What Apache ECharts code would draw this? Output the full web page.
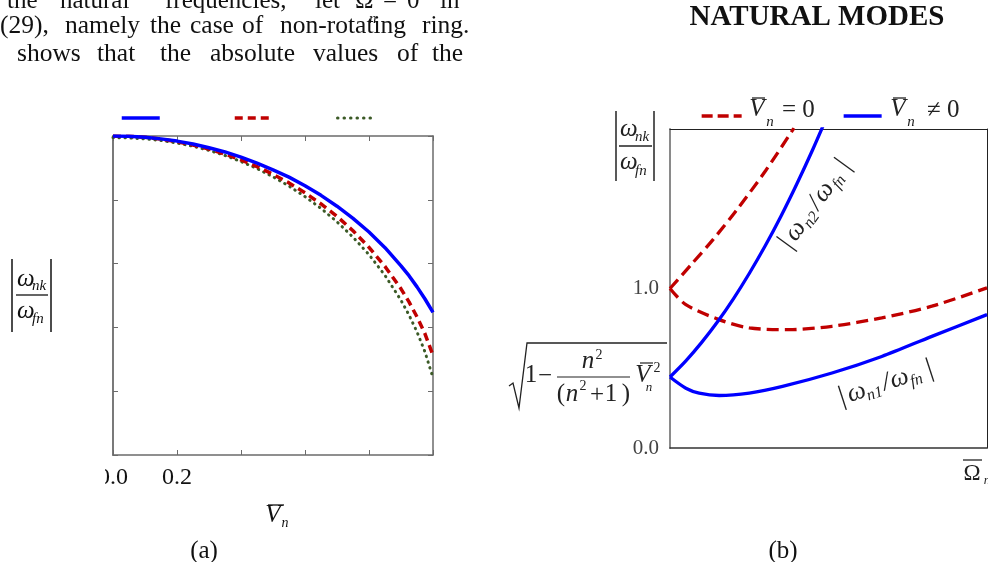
<!DOCTYPE html>
<html><head><meta charset="utf-8">
<script src="https://cdn.jsdelivr.net/npm/echarts@6/dist/echarts.min.js"></script>
<style>html,body{margin:0;padding:0;background:#fff}#c{width:988px;height:562px}</style>
</head><body><div id="c"></div>
<script>
// ---------- data: plot (a) ----------
const vn = [0,0.05,0.1,0.15,0.2,0.25,0.3,0.35,0.4,0.45,0.5,0.55,0.6,0.65,0.7,0.75,0.8,0.85,0.9,0.925,0.95,0.975,1];
const blueA = [1,0.999,0.996,0.991,0.984,0.975,0.963,0.950,0.934,0.915,0.894,0.871,0.844,0.814,0.780,0.742,0.699,0.650,0.593,0.562,0.527,0.489,0.447];
const redA = [1,0.999,0.996,0.990,0.982,0.972,0.959,0.943,0.925,0.904,0.880,0.853,0.822,0.787,0.748,0.703,0.651,0.591,0.521,0.480,0.433,0.380,0.312];
const greenA = [0.995,0.994,0.991,0.986,0.978,0.968,0.955,0.939,0.920,0.898,0.872,0.843,0.810,0.773,0.731,0.683,0.628,0.563,0.485,0.439,0.386,0.323,0.242];
const xTickLabelsA = ['0.0','0.2'];

// ---------- data: plot (b) ----------
const omRedUp = [0,0.066,0.135,0.208,0.302,0.391];
const redUp = [1.0,1.148,1.305,1.486,1.740,2.006];
const omRedLow = [0,0.05,0.155,0.25,0.375,0.511,0.668,0.826,1.0];
const redLow = [1.0,0.899,0.805,0.753,0.742,0.763,0.816,0.889,1.004];
const omBlueUp = [0,0.05,0.1,0.15,0.2,0.25,0.3,0.35,0.4,0.45,0.49];
const blueUp = [0.445,0.546,0.662,0.791,0.935,1.094,1.266,1.453,1.655,1.870,2.053];
const omBlueLow = [0,0.05,0.092,0.155,0.25,0.355,0.511,0.668,0.826,1.0];
const blueLow = [0.445,0.375,0.344,0.329,0.344,0.386,0.470,0.574,0.700,0.836];
const yTickLabelsB = ['0.0','1.0'];

// ---------- page text ----------
const paraLine1 = [['the',7],['natural',60],['frequencies,',165],['let',315],['in',440]];
const paraLine2 = [['(29),',0],['namely',65],['the',150],['case',190],['of',242],['non-rotating',280],['ring.',422]];
const paraLine3 = [['shows',17],['that',97],['the',160],['absolute',210],['values',313],['of',397],['the',432]];

const F = "'Liberation Serif','Times New Roman',serif";
const BLUE = '#0000ff', RED = '#c00000', GREEN = '#3b5a26';

function T(x, y, text, size, o) {
  o = o || {};
  return {type:'text', x:x, y:y, z:100, silent:true,
    style:{text:text, fontFamily:F, fontSize:size, fontStyle:o.it?'italic':'normal',
      fontWeight:o.b?'bold':'normal', fill:o.c||'#111',
      align:o.al||'center', textAlign:o.al||'center', verticalAlign:'middle', textVerticalAlign:'middle'}};
}
function L(x1, y1, x2, y2, w, c) {
  return {type:'line', z:100, silent:true, shape:{x1:x1,y1:y1,x2:x2,y2:y2}, style:{stroke:c||'#111', lineWidth:w||1.5}};
}
function pairs(xs, ys) { return xs.map((x,i)=>[x, ys[i]]); }

const g = [];
// paragraph
paraLine1.forEach(w=>g.push(T(w[1], 1.5, w[0], 25, {al:'left'})));
g.push(T(355, 1.5, 'Ω', 25, {al:'left'}));
g.push(T(369, 19, 'n', 15, {al:'left', it:true}));
g.push(T(383, 1.5, '=', 25, {al:'left'}));
g.push(T(407, 1.5, '0', 25, {al:'left'}));
paraLine2.forEach(w=>g.push(T(w[1], 26.5, w[0], 25.5, {al:'left'})));
paraLine3.forEach(w=>g.push(T(w[1], 54, w[0], 25.5, {al:'left'})));
// heading
g.push(T(817, 18, 'NATURAL MODES', 29, {b:true}));
// captions
g.push(T(204, 551, '(a)', 25));
g.push(T(783, 551, '(b)', 25));

// y-label of (a)
g.push(L(12,259,12,332,1.5), L(51,259,51,332,1.5), L(16,295,48,295,1.3));
g.push(T(17, 279, 'ω', 25, {al:'left', it:true}));
g.push(T(32, 286, 'nk', 15, {al:'left', it:true}));
g.push(T(17, 311, 'ω', 25, {al:'left', it:true}));
g.push(T(32, 319, 'fn', 15, {al:'left', it:true}));
// x-name of (a)
g.push(T(273, 515, 'V', 25, {it:true}));
g.push(L(268,505,284,505,1.3));
g.push(T(285, 523, 'n', 14, {it:true}));
// mask clipping of the first tick label
g.push({type:'rect', z:200, silent:true, shape:{x:80,y:460,width:25,height:36}, style:{fill:'#fff'}});

// y-label of (b)
g.push(L(616,111,616,181,1.5,'#222'), L(654,111,654,181,1.5,'#222'), L(619,146,652,146,1.3,'#222'));
g.push(T(620, 129, 'ω', 25, {al:'left', it:true, c:'#222'}));
g.push(T(635, 137, 'nk', 15, {al:'left', it:true, c:'#222'}));
g.push(T(620, 162, 'ω', 25, {al:'left', it:true, c:'#222'}));
g.push(T(635, 171, 'fn', 15, {al:'left', it:true, c:'#222'}));
// x-name of (b)
g.push(T(972, 474, 'Ω', 23, {c:'#222'}));
g.push(L(963,460,982,460,1.3,'#222'));
g.push(T(987, 481, 'n', 13, {it:true, c:'#222'}));

// legend texts of (b)
g.push(T(757, 109, 'V', 25, {it:true, c:'#222'}));
g.push(L(752,98,765,98,1.3,'#222'));
g.push(T(770, 122, 'n', 15, {it:true, c:'#222'}));
g.push(T(782, 110, '= 0', 25, {al:'left', c:'#222'}));
g.push(T(898, 109, 'V', 25, {it:true, c:'#222'}));
g.push(L(893,98,906,98,1.3,'#222'));
g.push(T(911, 122, 'n', 15, {it:true, c:'#222'}));
g.push(T(927, 110, '≠ 0', 25, {al:'left', c:'#222'}));

// sqrt tick label of (b)
g.push({type:'polyline', z:100, silent:true, shape:{points:[[509,386],[513,383],[519,408],[527,343],[667,343]]}, style:{stroke:'#222', lineWidth:1.3, fill:null}});
g.push(T(531, 375, '1', 25, {c:'#222'}));
g.push(T(545, 376, '−', 25, {c:'#222'}));
g.push(T(588, 361, 'n', 25, {it:true, c:'#222'}));
g.push(T(599, 355, '2', 14, {c:'#222'}));
g.push(L(557,377,630,377,1.2,'#222'));
g.push(T(561, 394, '(', 25, {c:'#222'}));
g.push(T(572, 394, 'n', 25, {it:true, c:'#222'}));
g.push(T(583, 386, '2', 14, {c:'#222'}));
g.push(T(597, 395, '+', 25, {c:'#222'}));
g.push(T(611, 394, '1', 25, {c:'#222'}));
g.push(T(626, 394, ')', 25, {c:'#222'}));
g.push(T(643, 375, 'V', 25, {it:true, c:'#222'}));
g.push(L(640,363,653,363,1.2,'#222'));
g.push(T(657, 368, '2', 14, {c:'#222'}));
g.push(T(649, 388, 'n', 13, {it:true, c:'#222'}));

// curve labels of (b)
function modeLabel(cx, cy, rotDeg, half, k) {
  const s = half/46;
  const ch = [
    T(-46*s, 0, '|', 28, {c:'#222'}),
    T(-31*s, 0, 'ω', 26, {it:true, c:'#222'}),
    T(-14*s, 7, 'n'+k, 16, {it:true, c:'#222'}),
    T(0, 0, '/', 26, {it:true, c:'#222'}),
    T(14*s, 0, 'ω', 26, {it:true, c:'#222'}),
    T(30*s, 7, 'fn', 16, {it:true, c:'#222'}),
    T(46*s, 0, '|', 28, {c:'#222'})
  ];
  return {type:'group', x:cx, y:cy, rotation:rotDeg*Math.PI/180, z:100, silent:true, children:ch};
}
g.push(modeLabel(815, 204, 54, 49, '2'));
g.push(modeLabel(886, 383, 18, 46, '1'));

const common = {type:'line', symbol:'none', showSymbol:false, silent:true};
const legCommon = {itemWidth:38, itemHeight:14, padding:0, selectedMode:false, formatter:()=>'', textStyle:{fontSize:1}, itemStyle:{opacity:0}};

const axisBase = {type:'value', splitLine:{show:false}};
const option = {
  animation:false,
  backgroundColor:'#fff',
  grid:[
    {left:113, top:136, width:320, height:319},
    {left:670, top:129, width:317, height:319}
  ],
  legend:[
    Object.assign({data:['blueA'], left:120, top:111, lineStyle:{width:3.5}}, legCommon),
    Object.assign({data:['redA'], left:233, top:111, lineStyle:{width:3.5, type:[8,5]}}, legCommon),
    Object.assign({data:['greenA'], left:336, top:111, lineStyle:{width:3, type:[0.5,6], cap:'round'}}, legCommon),
    Object.assign({data:['redB'], left:700, top:109, lineStyle:{width:3.3, type:[11,5]}}, legCommon, {itemWidth:40}),
    Object.assign({data:['blueB'], left:842, top:109, lineStyle:{width:3.3}}, legCommon)
  ],
  xAxis:[
    Object.assign({gridIndex:0, min:0, max:1, interval:0.2, position:'bottom',
     axisLine:{onZero:false, lineStyle:{color:'#6b6b6b', width:1.5}},
     axisTick:{inside:true, length:5, lineStyle:{color:'#6b6b6b'}},
     axisLabel:{margin:11, fontFamily:F, fontSize:24, color:'#111',
       formatter:v=> v===0 ? xTickLabelsA[0] : (Math.abs(v-0.2)<1e-9 ? xTickLabelsA[1] : '')}}, axisBase),
    Object.assign({gridIndex:0, min:0, max:1, interval:0.2, position:'top',
     axisLine:{onZero:false, lineStyle:{color:'#6b6b6b', width:1.5}},
     axisTick:{inside:true, length:5, lineStyle:{color:'#6b6b6b'}},
     axisLabel:{show:false}}, axisBase),
    Object.assign({gridIndex:1, min:0, max:1, position:'bottom',
     axisLine:{onZero:false, lineStyle:{color:'#333', width:1.5}}, axisTick:{show:false},
     axisLabel:{show:false}}, axisBase),
    Object.assign({gridIndex:1, min:0, max:1, position:'top',
     axisLine:{onZero:false, lineStyle:{color:'#222', width:1}}, axisTick:{show:false},
     axisLabel:{show:false}}, axisBase)
  ],
  yAxis:[
    Object.assign({gridIndex:0, min:0, max:1, interval:0.2, position:'left',
     axisLine:{show:true, onZero:false, lineStyle:{color:'#6b6b6b', width:1.8}},
     axisTick:{show:true, inside:true, length:5, lineStyle:{color:'#6b6b6b'}},
     axisLabel:{show:false}}, axisBase),
    Object.assign({gridIndex:0, min:0, max:1, interval:0.2, position:'right',
     axisLine:{show:true, onZero:false, lineStyle:{color:'#6b6b6b', width:1.5}},
     axisTick:{show:true, inside:true, length:5, lineStyle:{color:'#6b6b6b'}},
     axisLabel:{show:false}}, axisBase),
    Object.assign({gridIndex:1, min:0, max:2, interval:1, position:'left',
     axisLine:{show:true, onZero:false, lineStyle:{color:'#8a8a8a', width:2}}, axisTick:{show:false},
     axisLabel:{margin:11, fontFamily:F, fontSize:21, color:'#444',
       formatter:v=> v===0 ? yTickLabelsB[0] : (v===1 ? yTickLabelsB[1] : '')}}, axisBase),
    Object.assign({gridIndex:1, min:0, max:2, interval:1, position:'right',
     axisLine:{show:true, onZero:false, lineStyle:{color:'#222', width:1}}, axisTick:{show:false},
     axisLabel:{show:false}}, axisBase)
  ],
  series:[
    Object.assign({name:'greenA', xAxisIndex:0, yAxisIndex:0, data:pairs(vn, greenA),
      itemStyle:{color:GREEN}, lineStyle:{color:GREEN, width:3, type:[0.5,5.5], cap:'round'}}, common),
    Object.assign({name:'redA', xAxisIndex:0, yAxisIndex:0, data:pairs(vn, redA),
      itemStyle:{color:RED}, lineStyle:{color:RED, width:3.5, type:[8,5]}}, common),
    Object.assign({name:'blueA', xAxisIndex:0, yAxisIndex:0, data:pairs(vn, blueA),
      itemStyle:{color:BLUE}, lineStyle:{color:BLUE, width:3.5}}, common),
    Object.assign({name:'redB', xAxisIndex:2, yAxisIndex:2, data:pairs(omRedUp, redUp), smooth:0.3,
      itemStyle:{color:RED}, lineStyle:{color:RED, width:3.3, type:[12,6]}}, common),
    Object.assign({name:'redB', xAxisIndex:2, yAxisIndex:2, data:pairs(omRedLow, redLow), smooth:0.3,
      itemStyle:{color:RED}, lineStyle:{color:RED, width:3.3, type:[12,6]}}, common),
    Object.assign({name:'blueB', xAxisIndex:2, yAxisIndex:2, data:pairs(omBlueUp, blueUp), smooth:0.3,
      itemStyle:{color:BLUE}, lineStyle:{color:BLUE, width:3.3}}, common),
    Object.assign({name:'blueB', xAxisIndex:2, yAxisIndex:2, data:pairs(omBlueLow, blueLow), smooth:0.3,
      itemStyle:{color:BLUE}, lineStyle:{color:BLUE, width:3.3}}, common)
  ],
  graphic:{elements:g}
};
const chart = echarts.init(document.getElementById('c'), null, {renderer:'canvas'});
chart.setOption(option);
</script></body></html>
